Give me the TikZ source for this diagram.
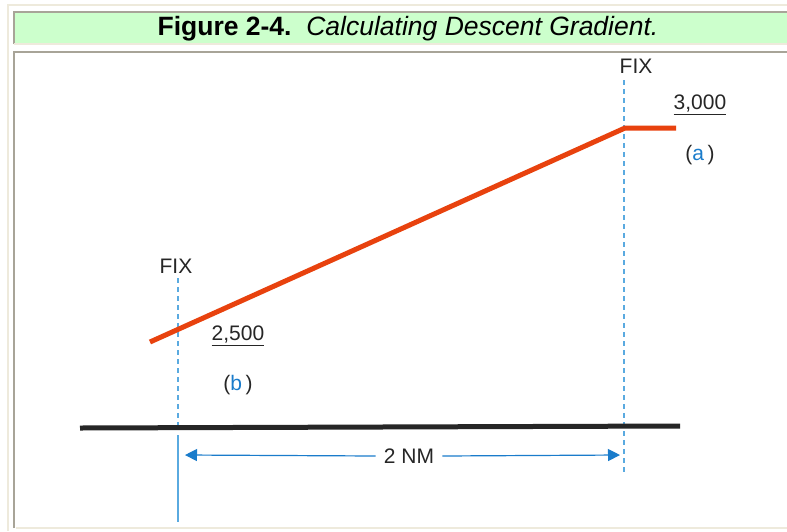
\documentclass[tikz,border=0pt]{standalone}
\usepackage{fontspec}
\setmainfont{Liberation Sans}
\usetikzlibrary{calc, positioning, arrows.meta}

\definecolor{hdrgreen}{HTML}{CCFFCC}
\definecolor{edgebeige}{HTML}{EEEADC}
\definecolor{edgegray}{HTML}{A8A498}
\definecolor{pathorange}{HTML}{E8420E}
\definecolor{fixblue}{HTML}{5AAAE0}
\definecolor{dimblue}{HTML}{1A7CCB}
\definecolor{inkgray}{HTML}{262626}

\begin{document}
\begin{tikzpicture}[x=1pt, y=-1pt,
  lbl/.style={inner sep=0pt, text=inkgray, font=\fontsize{21}{25}\selectfont},
  fixline/.style={draw=fixblue, line width=1.2pt, dash pattern=on 5pt off 4pt},
  dimline/.style={draw=dimblue, line width=1.2pt, -{Triangle[length=12pt,width=12pt]}}]
\useasboundingbox (0,0) rectangle (787,531);
% frame and header
\fill[white] (0,0) rectangle (787,531);
\draw[edgebeige, line width=2.5pt] (8,531) -- (8,5) -- (787,5);
\fill[hdrgreen] (14,12) rectangle (787,43);
\draw[edgegray, line width=2.5pt] (14,44) -- (14,12) -- (787,12);
\draw[edgebeige, line width=2.5pt] (14,44) -- (787,44);
\draw[edgegray, line width=2.5pt] (14,528) -- (14,52) -- (787,52);
\draw[edgebeige, line width=2.5pt] (15.5,528) -- (787,528);
\node[inner sep=0pt, text=black, font=\fontsize{26.5}{30}\selectfont] (title) at (408,29)
  {\textbf{Figure 2-4.}\ \ \textit{Calculating Descent Gradient.}};

% fixes
\node[lbl] (fixa) at (636,66) {FIX};
\node[lbl] (fixb) at (176,266) {FIX};
\coordinate (fa1) at (624,80);
\coordinate (fa2) at (624,474);
\coordinate (fb1) at (178,278);
\coordinate (fb2) at (178,426);
\coordinate (fb3) at (178,435);
\coordinate (fb4) at (178,522);
\draw[fixline] (fa1) -- (fa2);
\draw[fixline] (fb1) -- (fb2);
\draw[fixblue, line width=1.2pt] (fb3) -- (fb4);

% ground
\coordinate (g1) at (80,428);
\coordinate (g2) at (680,426);
\draw[inkgray, line width=5pt] (g1) -- (g2);

% descent path
\coordinate (b) at (150,342);
\coordinate (a) at (625,128);
\coordinate (ae) at (676,128);
\draw[pathorange, line width=5pt] (b) -- (a) -- (ae);

% altitudes
\node[lbl] (alta) at (700,105) {\underline{3,000}};
\node[lbl] (taga) at (700,155) {(\textcolor{dimblue}{a}\,)};
\node[lbl] (altb) at (238,336) {\underline{2,500}};
\node[lbl] (tagb) at (238,385) {(\textcolor{dimblue}{b}\,)};

% distance
\node[lbl, inner xsep=8pt] (dist) at (409,456) {2 NM};
\coordinate (dl) at (185,455);
\coordinate (dr) at (620,455);
\draw[dimline] (dist.west) -- (dl);
\draw[dimline] (dist.east) -- (dr);
\end{tikzpicture}
\end{document}
